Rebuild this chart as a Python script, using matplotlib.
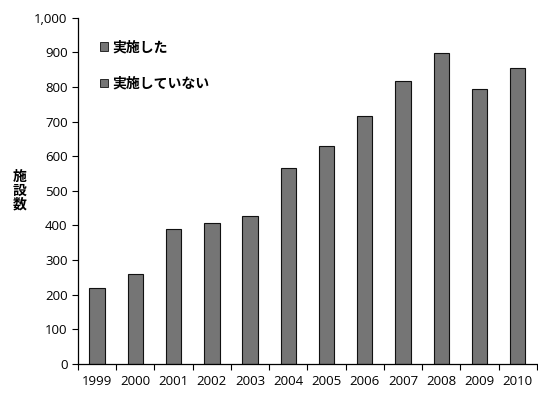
import matplotlib
matplotlib.use("Agg")
import matplotlib.pyplot as plt
from matplotlib.patches import Patch
from matplotlib.ticker import FuncFormatter, MultipleLocator

plt.rcParams['font.family'] = ['Open Sans', 'Noto Sans CJK JP', 'DejaVu Sans']

years = ['1999', '2000', '2001', '2002', '2003', '2004',
         '2005', '2006', '2007', '2008', '2009', '2010']
totals = [219, 261, 390, 408, 428, 566, 631, 717, 817, 898, 793, 855]
legend_labels = ['実施した', '実施していない']
ylabel = '施設数'

bar_color = '#757575'

fig = plt.figure(figsize=(5.38, 3.96), dpi=100)
ax = fig.add_axes([0.145, 0.081, 0.853, 0.874])

x = range(len(years))
ax.bar(x, totals, width=0.4, color=bar_color, edgecolor='#111111', linewidth=0.8)

ax.set_xlim(-0.5, len(years) - 0.5)
ax.set_ylim(0, 1000)
ax.yaxis.set_major_locator(MultipleLocator(100))
ax.yaxis.set_major_formatter(FuncFormatter(lambda v, p: f'{int(v):,}'))

ax.set_xticks(list(x))
ax.set_xticklabels(years)
ax.set_xticks([i + 0.5 for i in range(-1, len(years))], minor=True)
ax.tick_params(axis='x', which='major', length=0, labelsize=9.5, pad=8)
ax.tick_params(axis='x', which='minor', length=4, direction='out', width=0.8)
ax.tick_params(axis='y', length=4, direction='out', width=0.8, labelsize=9.5)

for side in ('top', 'right'):
    ax.spines[side].set_visible(False)
for side in ('left', 'bottom'):
    ax.spines[side].set_linewidth(0.9)

ax.set_ylabel('\n'.join(ylabel), rotation=0, fontsize=10, fontweight='bold',
              family=['Noto Sans CJK JP'], va='center', ha='center',
              linespacing=1.0)
ax.yaxis.set_label_coords(-0.128, 0.5)

handles = [Patch(facecolor=bar_color, edgecolor='#111111', linewidth=0.6)
           for _ in legend_labels]
leg = ax.legend(handles, legend_labels, loc='upper left',
                bbox_to_anchor=(0.02, 0.97), frameon=False,
                prop={'family': ['Noto Sans CJK JP'], 'weight': 'bold', 'size': 10},
                handlelength=0.6, handleheight=0.6, handletextpad=0.3,
                labelspacing=1.6)

fig.savefig('out.png', dpi=100)
